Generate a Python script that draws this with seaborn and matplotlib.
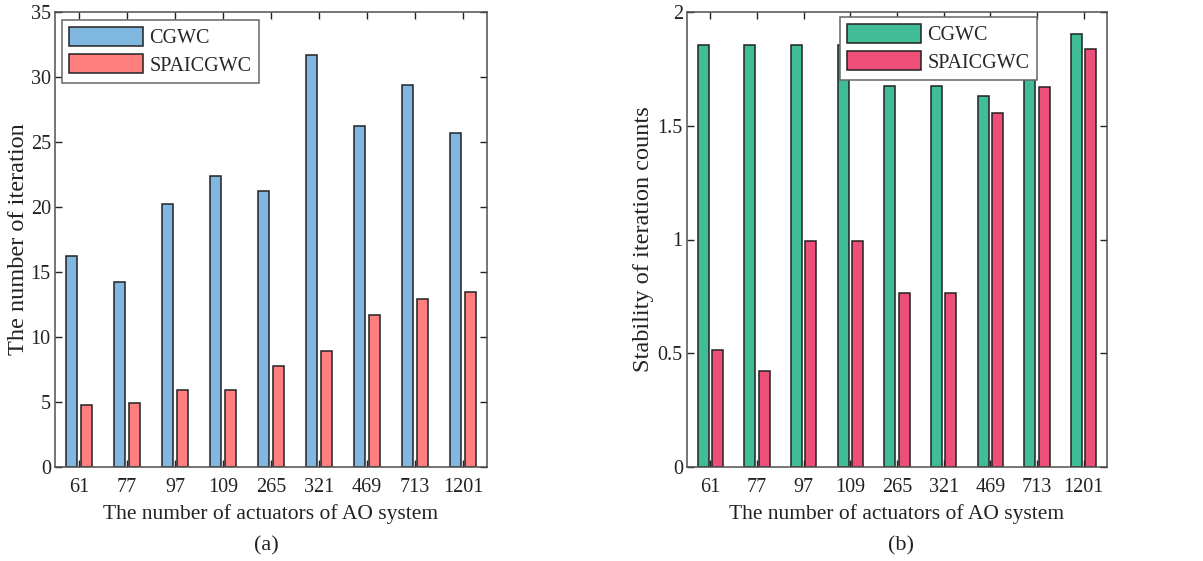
import matplotlib
matplotlib.use("Agg")
import matplotlib.pyplot as plt
import seaborn as sns
import pandas as pd

actuators = ["61", "77", "97", "109", "265", "321", "469", "713", "1201"]
iter_cgwc = [16.2, 14.2, 20.2, 22.4, 21.2, 31.7, 26.2, 29.4, 25.7]
iter_spai = [4.8, 4.9, 5.9, 5.9, 7.8, 8.9, 11.7, 12.9, 13.5]
stab_cgwc = [1.857, 1.857, 1.857, 1.857, 1.675, 1.675, 1.63, 1.905, 1.905]
stab_spai = [0.515, 0.423, 0.992, 0.992, 0.764, 0.764, 1.557, 1.671, 1.836]
methods = ["CGWC", "SPAICGWC"]
yticks_a = [0, 5, 10, 15, 20, 25, 30, 35]
yticks_b = [0, 0.5, 1, 1.5, 2]
ytick_labels_b = ["0", "0.5", "1", "1.5", "2"]

sns.set_theme(style="white")
plt.rcParams["font.family"] = ["Liberation Serif", "DejaVu Serif"]

FS = 14.5
XL_FS = 15.5
YL_FS = 17.5
spine_c = "#505050"
txt_c = "#222222"


def make_df(a, b):
    return pd.DataFrame({
        "act": actuators * 2,
        "val": list(a) + list(b),
        "method": [methods[0]] * len(a) + [methods[1]] * len(b),
    })


fig = plt.figure(figsize=(12.03, 5.61), dpi=100)
W, H = 1203, 561
ax1 = fig.add_axes([55 / W, (H - 467) / H, 432 / W, 455 / H])
ax2 = fig.add_axes([687 / W, (H - 467) / H, 420 / W, 455 / H])


def draw(ax, df, colors, ylim, yticks, ylabels, ylabel, leg_xy, tag, ylab_x, tag_x):
    sns.barplot(data=df, x="act", y="val", hue="method", order=actuators,
                hue_order=methods, palette=colors, width=0.62, gap=0.23,
                edgecolor="#222222", linewidth=1.1, ax=ax, errorbar=None,
                saturation=1)
    ax.set_xlim(-0.5, len(actuators) - 0.5)
    ax.set_ylim(*ylim)
    ax.set_yticks(yticks)
    ax.set_yticklabels(ylabels)
    ax.tick_params(direction="in", length=5, width=1, colors=txt_c,
                   labelsize=FS, top=True, right=True, bottom=True, left=True)
    ax.tick_params(axis="x", pad=8)
    ax.tick_params(axis="y", pad=3)
    for s in ax.spines.values():
        s.set_color(spine_c)
        s.set_linewidth(1.1)
        s.set_visible(True)
    ax.set_xlabel("The number of actuators of AO system", fontsize=XL_FS,
                  color=txt_c, labelpad=5)
    ax.set_ylabel(ylabel, fontsize=YL_FS, color=txt_c)
    ax.yaxis.set_label_coords(ylab_x, 0.5)
    leg = ax.legend(loc="upper left", bbox_to_anchor=leg_xy, borderaxespad=0,
                    fontsize=FS, handlelength=3.7, handleheight=1.05,
                    fancybox=False, edgecolor="#666666", framealpha=1,
                    borderpad=0.35, labelspacing=0.3, handletextpad=0.3)
    leg.get_frame().set_linewidth(1.1)
    ax.text(tag_x, -0.152, tag, transform=ax.transAxes, ha="center", va="top",
            fontsize=XL_FS + 0.5, color=txt_c)


draw(ax1, make_df(iter_cgwc, iter_spai), ["#7FB7E0", "#FF7F7F"], (0, 35),
     yticks_a, [str(v) for v in yticks_a], "The number of iteration",
     (0.016, 0.982), "(a)", -0.06, 0.49)
draw(ax2, make_df(stab_cgwc, stab_spai), ["#40BC96", "#EE4F78"], (0, 2),
     yticks_b, ytick_labels_b, "Stability of iteration counts",
     (0.364, 0.989), "(b)", -0.078, 0.51)

fig.savefig("out.png", dpi=100)
